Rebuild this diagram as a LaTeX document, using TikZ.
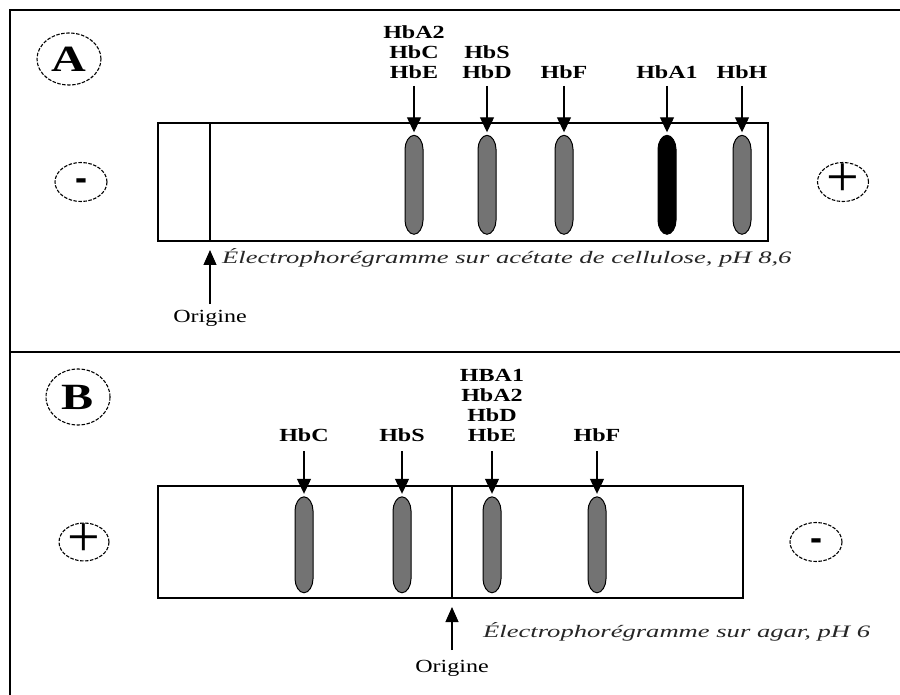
\documentclass[tikz,border=0pt]{standalone}
\usepackage{fontspec}
\setmainfont{Liberation Serif}
\newfontfamily\lblf[FakeStretch=1.3]{Liberation Serif}
\newfontfamily\capf[FakeStretch=1.52]{Liberation Serif}
\newfontfamily\signf{DejaVu Sans}
\usetikzlibrary{arrows.meta,shapes.geometric}
\tikzset{
 lbl/.style={font=\lblf\bfseries\fontsize{18.5}{20}\selectfont, align=center, inner sep=0, anchor=south},
 band/.style={inner sep=0, minimum width=18pt, minimum height=99pt},
 bandB/.style={band, minimum height=96pt},
 bandfill/.style={draw=black, line width=1pt, fill=black!55},
 arr/.style={-{Triangle[length=15pt,width=14pt]}, line width=1.2pt, shorten >=3pt},
 oarr/.style={-{Triangle[length=15pt,width=13pt]}, line width=1.2pt, shorten >=9pt},
 strip/.style={draw, line width=1.3pt, inner sep=0},
 elec/.style={ellipse, draw, dash pattern=on 3.5pt off 1.5pt, inner sep=0, line width=1.1pt},
 orig/.style={font=\lblf\fontsize{18.5}{19}\selectfont, inner sep=0},
 capt/.style={font=\capf\itshape\fontsize{17.5}{20}\selectfont, inner sep=0, anchor=west, text=black!85},
 panel/.style={font=\lblf\bfseries\fontsize{37}{37}\selectfont},
 minus/.style={font=\signf\bfseries\fontsize{30}{30}\selectfont},
 plus/.style={font=\fontsize{58}{58}\selectfont},
}
\newcommand\bandshape[2][bandfill]{%
  \draw[#1] (#2.north) .. controls +(5,0) and +(0,-7) .. ++(9,14)
     -- ++(0,\bandlen)
     .. controls +(0,7) and +(5,0) .. ++(-9,14)
     .. controls +(-5,0) and +(0,7) .. ++(-9,-14)
     -- ++(0,-\bandlen)
     .. controls +(0,-7) and +(-5,0) .. cycle;}
\newcommand\centred[1]{\smash{\makebox[0pt]{\raisebox{-0.25em}{#1}}}}
\begin{document}
\begin{tikzpicture}[x=1pt,y=-1pt]
\useasboundingbox (0,0) rectangle (900,695);
% frame
\draw[line width=2pt] (900,10) -- (10,10) -- (10,695);
\draw[line width=2pt] (10,352) -- (900,352);

% ---------- Panel A ----------
\node[elec, panel, minimum width=64pt, minimum height=52pt] (pA) at (69,59) {A};
\node[elec, minus, minimum width=52pt, minimum height=39pt] (mA) at (81,182) {\centred{-}};
\node[elec, plus, minimum width=51pt, minimum height=39pt] (plA) at (843,182) {\centred{+}};
\node[strip, minimum width=610pt, minimum height=118pt] (sA) at (463,182) {};
\draw[line width=1.3pt] (210,123) -- (210,241);

\node[band] (bA1) at (414,185) {};
\node[band] (bA2) at (487,185) {};
\node[band] (bA3) at (564,185) {};
\node[band] (bA4) at (667,185) {};
\node[band] (bA5) at (742,185) {};
\def\bandlen{71}
\bandshape{bA1}
\bandshape{bA2}
\bandshape{bA3}
\bandshape[bandfill, fill=black]{bA4}
\bandshape{bA5}

\node[lbl] (lA1) at (414,79) {HbA2\\HbC\\HbE};
\node[lbl] (lA2) at (487,79) {HbS\\HbD};
\node[lbl] (lA3) at (564,79) {HbF};
\node[lbl] (lA4) at (667,79) {HbA1};
\node[lbl] (lA5) at (742,79) {HbH};
\foreach \i in {1,...,5}{\draw[arr] ([yshift=-7pt]lA\i.south) -- (bA\i.north);}

\node[capt] (cA) at (222,258) {Électrophorégramme sur acétate de cellulose, pH 8,6};
\node[orig] (oA) at (210,318) {Origine};
\coordinate (oAs) at (210,304);
\coordinate (oAe) at (210,241);
\draw[oarr] (oAs) -- (oAe);

% ---------- Panel B ----------
\node[elec, panel, minimum width=64pt, minimum height=56pt] (pB) at (78,397) {B};
\node[elec, plus, minimum width=50pt, minimum height=38pt] (plB) at (84,542) {\centred{+}};
\node[elec, minus, minimum width=52pt, minimum height=39pt] (mB) at (816,542) {\centred{-}};
\node[strip, minimum width=585pt, minimum height=112pt] (sB) at (450.5,542) {};
\draw[line width=1.3pt] (452,486) -- (452,598);

\node[bandB] (bB1) at (304,545) {};
\node[bandB] (bB2) at (402,545) {};
\node[bandB] (bB3) at (492,545) {};
\node[bandB] (bB4) at (597,545) {};
\def\bandlen{68}
\foreach \i in {1,...,4}{\bandshape{bB\i}}

\node[lbl] (lB1) at (304,442) {HbC};
\node[lbl] (lB2) at (402,442) {HbS};
\node[lbl] (lB3) at (492,442) {HBA1\\HbA2\\HbD\\HbE};
\node[lbl] (lB4) at (597,442) {HbF};
\foreach \i in {1,...,4}{\draw[arr] ([yshift=-9pt]lB\i.south) -- (bB\i.north);}

\node[capt] (cB) at (483,632) {Électrophorégramme sur agar, pH 6};
\node[orig] (oB) at (452,668) {Origine};
\coordinate (oBs) at (452,650);
\coordinate (oBe) at (452,598);
\draw[oarr] (oBs) -- (oBe);
\end{tikzpicture}
\end{document}
